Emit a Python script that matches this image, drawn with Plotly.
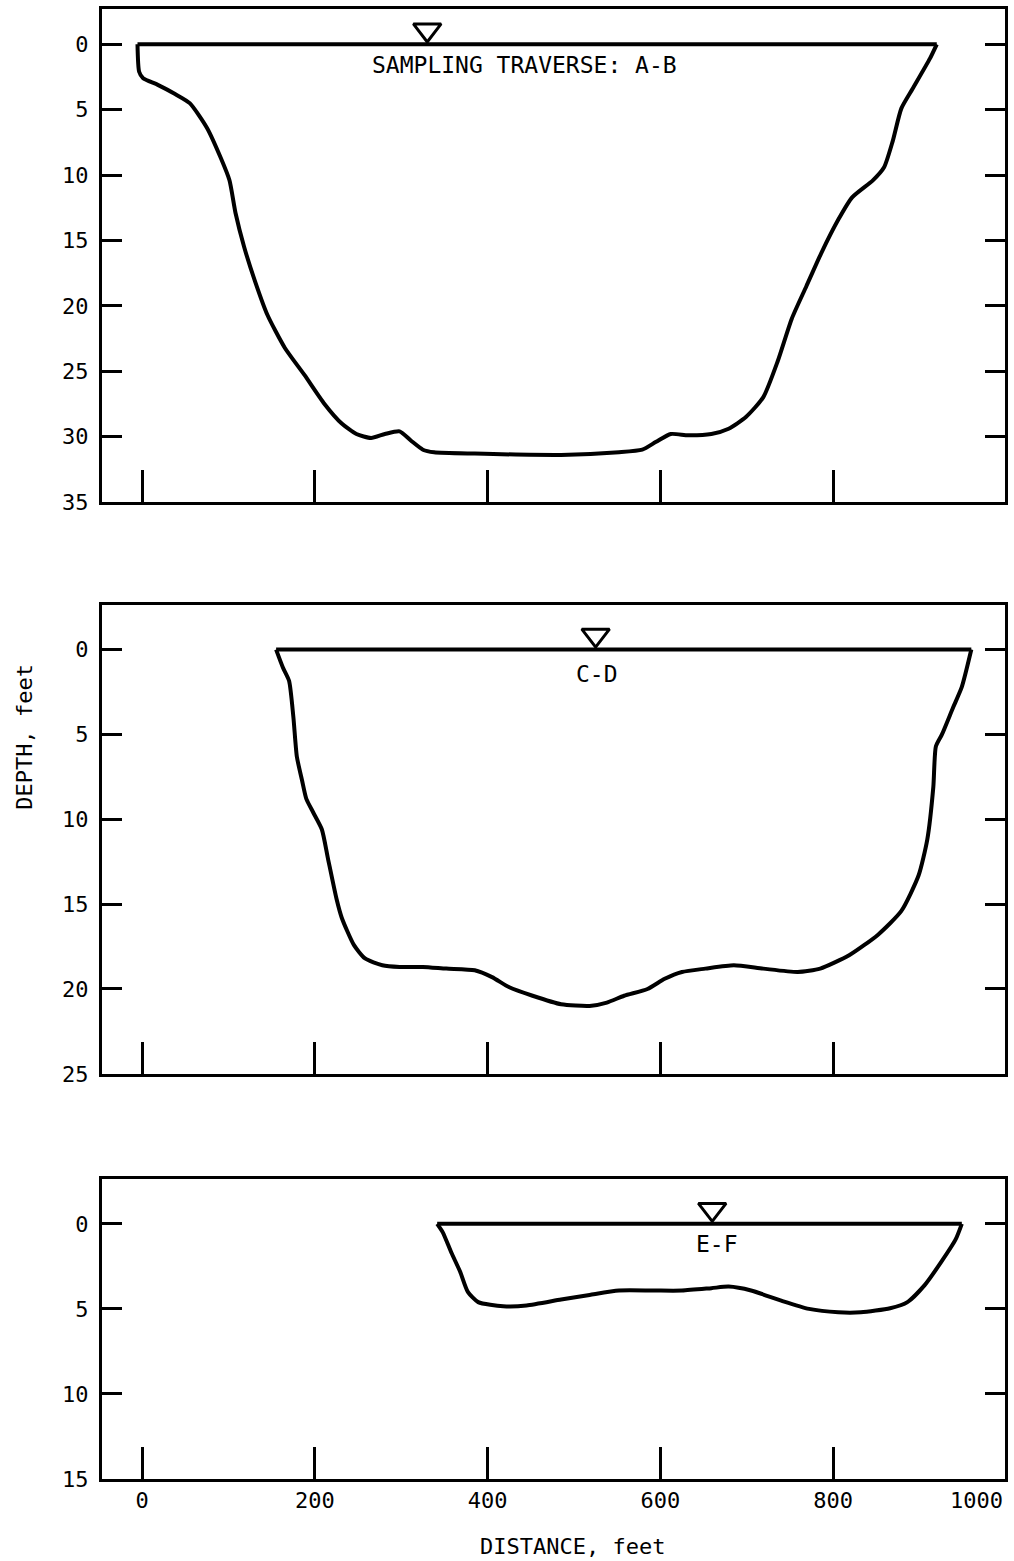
import plotly.graph_objects as go

# ---- data (distance in feet, depth in feet) ----
ab_dist = [-5.5, -3.6, 1, 18, 38, 55, 75, 91, 101, 108, 118, 131, 145, 165, 188, 211, 231, 248, 265,
           281, 298, 311, 325, 338, 385, 485, 552, 579, 595, 612, 632, 659, 679, 699, 719, 736, 752,
           769, 786, 806, 822, 846, 859, 869, 879, 892, 912, 920]
ab_depth = [0, 2.1, 2.6, 3.1, 3.8, 4.5, 6.4, 8.7, 10.4, 12.9, 15.5, 18.2, 20.7, 23.2, 25.3, 27.5, 29.0,
            29.8, 30.1, 29.8, 29.6, 30.3, 31.0, 31.2, 31.3, 31.4, 31.2, 31.0, 30.4, 29.8, 29.9, 29.8,
            29.4, 28.5, 27.0, 24.2, 21.0, 18.5, 16.0, 13.4, 11.7, 10.4, 9.4, 7.4, 4.9, 3.4, 1.1, 0]

cd_dist = [155, 163, 170, 175, 179, 185, 190, 198, 208, 215, 225, 231, 245, 258, 278, 298, 325, 352,
           385, 405, 425, 452, 485, 518, 538, 558, 585, 605, 625, 652, 685, 719, 759, 785, 819, 852,
           879, 899, 909, 916, 919, 926, 939, 949, 960]
cd_depth = [0, 1.07, 1.84, 3.98, 6.3, 7.7, 8.8, 9.6, 10.6, 12.3, 14.7, 15.8, 17.4, 18.2, 18.6, 18.7,
            18.7, 18.8, 18.9, 19.3, 19.9, 20.4, 20.9, 21.0, 20.8, 20.4, 20.0, 19.4, 19.0, 18.8, 18.6,
            18.8, 19.0, 18.8, 18.0, 16.8, 15.4, 13.3, 11.2, 8.1, 5.7, 5.0, 3.4, 2.2, 0]

ef_dist = [341.5, 348, 358, 368, 377, 389, 418, 445, 485, 518, 552, 592, 625, 659, 679, 705, 739,
           772, 806, 832, 866, 886, 906, 925, 942, 949]
ef_depth = [0, 0.5, 1.7, 2.8, 4.0, 4.6, 4.84, 4.8, 4.45, 4.18, 3.92, 3.92, 3.92, 3.78, 3.69, 3.92,
            4.5, 5.0, 5.2, 5.2, 4.96, 4.6, 3.6, 2.25, 0.9, 0]

panel_labels = ["SAMPLING TRAVERSE: A-B", "C-D", "E-F"]
label_x = [443, 527, 665]
label_y = [1.57, 1.45, 1.2]
wl_x = [330, 525, 660]          # water-surface symbol positions
wl_y = [-1.1, -0.85, -0.85]

x_ticks = [0, 200, 400, 600, 800]
x_ticklabels = ["0", "200", "400", "600", "800"]
y_ticks = [[0, 5, 10, 15, 20, 25, 30, 35], [0, 5, 10, 15, 20, 25], [0, 5, 10, 15]]
y_ranges = [[35, -2.7], [25, -2.64], [15, -2.66]]
x_range = [-46.6, 999]

FONT = "DejaVu Sans Mono"
profiles = [(ab_dist, ab_depth), (cd_dist, cd_depth), (ef_dist, ef_depth)]

# paper domains (from top)
H = 1561
t_m, b_m = 6, 82
ph = H - t_m - b_m
pix = [(6, 500), (603, 1073), (1178, 1479)]
domains = [[(1479 - b) / ph, (1479 - t) / ph] for t, b in pix]

fig = go.Figure()
for i, (xs, ys) in enumerate(profiles):
    sx = "" if i == 0 else str(i + 1)
    # channel bed (smooth)
    fig.add_trace(go.Scatter(x=xs, y=ys, mode="lines", xaxis="x" + sx, yaxis="y" + sx,
                             line=dict(color="black", width=4, shape="spline", smoothing=0.6),
                             hoverinfo="skip", showlegend=False))
    # water surface
    fig.add_trace(go.Scatter(x=[xs[0], xs[-1]], y=[ys[0], ys[-1]], mode="lines",
                             xaxis="x" + sx, yaxis="y" + sx,
                             line=dict(color="black", width=4), hoverinfo="skip", showlegend=False))
    fig.add_trace(go.Scatter(x=[wl_x[i]], y=[wl_y[i]], mode="markers", xaxis="x" + sx, yaxis="y" + sx,
                             marker=dict(symbol="triangle-down-open", size=24, color="black",
                                         line=dict(width=3, color="black")),
                             hoverinfo="skip", showlegend=False))
    fig.add_annotation(x=label_x[i], y=label_y[i], xref="x" + sx, yref="y" + sx, text=panel_labels[i],
                       showarrow=False, font=dict(family=FONT, size=23, color="black"))

axis_common = dict(showline=True, linewidth=3, linecolor="black", showgrid=False, zeroline=False,
                   ticks="inside", tickwidth=3, tickcolor="black")
layout = dict(width=1014, height=H, margin=dict(l=102, r=6, t=t_m, b=b_m),
              paper_bgcolor="white", plot_bgcolor="white", showlegend=False,
              font=dict(family=FONT, size=22, color="black"))
for i in range(3):
    sx = "" if i == 0 else str(i + 1)
    layout["xaxis" + sx] = dict(axis_common, domain=[0, 1], range=x_range, anchor="y" + sx,
                                tickvals=x_ticks, ticktext=x_ticklabels, ticklen=32, mirror=True,
                                showticklabels=(i == 2), tickfont=dict(family=FONT, size=22))
    layout["yaxis" + sx] = dict(axis_common, domain=domains[i], range=y_ranges[i], anchor="x" + sx,
                                tickvals=y_ticks[i], ticklen=20, mirror="ticks",
                                tickfont=dict(family=FONT, size=22), ticklabelstandoff=6)
fig.update_layout(**layout)

fig.add_annotation(x=1.0, y=0, xref="paper", yref="paper", text="1000", showarrow=False,
                   xanchor="right", yanchor="top", yshift=-7, font=dict(family=FONT, size=22))
fig.add_annotation(x=(574 - 102) / 906, y=(1479 - 1547) / ph, xref="paper", yref="paper",
                   xanchor="center", yanchor="middle",
                   text="DISTANCE, feet", showarrow=False, font=dict(family=FONT, size=22))
fig.add_annotation(x=(24 - 102) / 906, y=(1479 - 735) / ph, xref="paper", yref="paper",
                   xanchor="center", yanchor="middle",
                   text="DEPTH, feet", textangle=-90, showarrow=False, font=dict(family=FONT, size=22))

fig.write_html("out.html", config={"displayModeBar": False},
               post_script="document.body.style.margin='0px';")
